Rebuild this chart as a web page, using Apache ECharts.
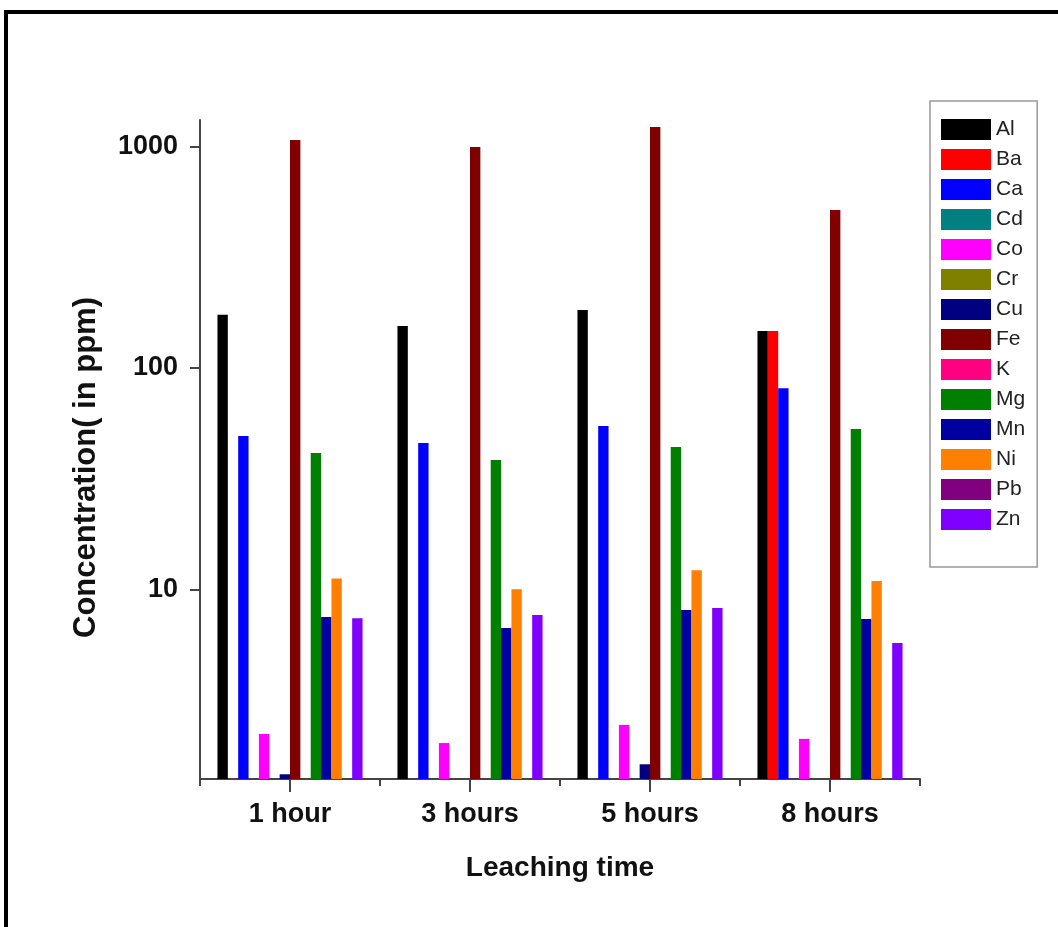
<!DOCTYPE html>
<html>
<head>
<meta charset="utf-8">
<script src="https://cdn.jsdelivr.net/npm/echarts@6/dist/echarts.min.js"></script>
<style>
  html, body { margin: 0; padding: 0; background: #fff; }
  #chart { width: 1058px; height: 927px; }
</style>
</head>
<body>
<div id="chart"></div>
<script>
// leaching time groups
const categories = ['1 hour', '3 hours', '5 hours', '8 hours']
const elements = ['Al', 'Ba', 'Ca', 'Cd', 'Co', 'Cr', 'Cu', 'Fe', 'K', 'Mg', 'Mn', 'Ni', 'Pb', 'Zn']

// concentrations in ppm, null = not shown
const Al = [174, 155, 183, 147]
const Ba = [null, null, null, 147]
const Ca = [49.3, 45.8, 54.7, 81]
const Cd = [null, null, null, null]
const Co = [2.22, 2.02, 2.44, 2.11]
const Cr = [null, null, null, null]
const Cu = [1.46, null, 1.62, null]
const Fe = [1072, 997, 1228, 517]
const K = [null, null, null, null]
const Mg = [41.3, 38.4, 44, 53]
const Mn = [7.5, 6.68, 8.06, 7.34]
const Ni = [11.2, 10.0, 12.2, 10.9]
const Pb = [null, null, null, null]
const Zn = [7.4, 7.65, 8.23, 5.72]

const yTicks = [10, 100, 1000]

const values = { Al, Ba, Ca, Cd, Co, Cr, Cu, Fe, K, Mg, Mn, Ni, Pb, Zn }
const colors = {
    Al: '#000000', Ba: '#FF0000', Ca: '#0000FF', Cd: '#008080', Co: '#FF00FF',
    Cr: '#808000', Cu: '#000080', Fe: '#800000', K: '#FF0080', Mg: '#008000',
    Mn: '#0000A0', Ni: '#FF8000', Pb: '#800080', Zn: '#8000FF'
}

const font = "'Liberation Sans', Arial, sans-serif"
const axisColor = '#444'

const chart = echarts.init(document.getElementById('chart'))

const series = elements.map(function (el) {
    return {
        name: el,
        type: 'bar',
        xAxisIndex: 0,
        data: values[el],
        barGap: 0,
        barCategoryGap: '19.4%',
        clip: true,
        itemStyle: { color: colors[el] }
    }
})

chart.setOption({
    animation: false,
    backgroundColor: '#fff',
    grid: { left: 200, right: 138, top: 120, bottom: 148, outerBoundsMode: 'none' },
    legend: {
        data: elements,
        orient: 'vertical',
        left: 930,
        top: 101,
        icon: 'rect',
        itemWidth: 50,
        itemHeight: 21,
        itemGap: 9,
        padding: [18, 12, 37, 11],
        borderColor: '#999',
        borderWidth: 1.5,
        textStyle: { fontFamily: font, fontSize: 21, color: '#222', lineHeight: 21 }
    },
    xAxis: [
        {
            type: 'category',
            data: categories,
            position: 'bottom',
            axisLine: { lineStyle: { color: axisColor, width: 2 } },
            axisTick: { show: true, alignWithLabel: true, length: 13, lineStyle: { color: axisColor, width: 2 } },
            axisLabel: { margin: 22, fontFamily: font, fontSize: 27, fontWeight: 'bold', color: '#111' },
            name: 'Leaching time',
            nameLocation: 'middle',
            nameGap: 75,
            nameTextStyle: { fontFamily: font, fontSize: 28, fontWeight: 'bold', color: '#111' }
        },
        {
            // short ticks on the category boundaries
            type: 'category',
            data: categories,
            position: 'bottom',
            axisLine: { show: false },
            axisTick: { show: true, length: 7, lineStyle: { color: axisColor, width: 2 } },
            axisLabel: { show: false }
        }
    ],
    yAxis: {
        type: 'log',
        logBase: 10,
        min: 1.39,
        max: 1320,
        axisLine: { show: true, lineStyle: { color: axisColor, width: 2 } },
        axisTick: { show: true, length: 10, customValues: yTicks, lineStyle: { color: axisColor, width: 2 } },
        axisLabel: {
            margin: 22,
            customValues: yTicks,
            formatter: function (v) { return String(Math.round(v)) },
            fontFamily: font, fontSize: 27, fontWeight: 'bold', color: '#111'
        },
        splitLine: { show: false },
        name: 'Concentration( in ppm)',
        nameLocation: 'middle',
        nameGap: 98,
        nameTextStyle: { fontFamily: font, fontSize: 31, fontWeight: 'bold', color: '#111', padding: [0, 36, 0, 0] }
    },
    graphic: [
        {
            type: 'rect',
            silent: true,
            shape: { x: 6, y: 12, width: 1200, height: 1200 },
            style: { fill: null, stroke: '#000', lineWidth: 4 }
        }
    ],
    series: series
})
</script>
</body>
</html>
